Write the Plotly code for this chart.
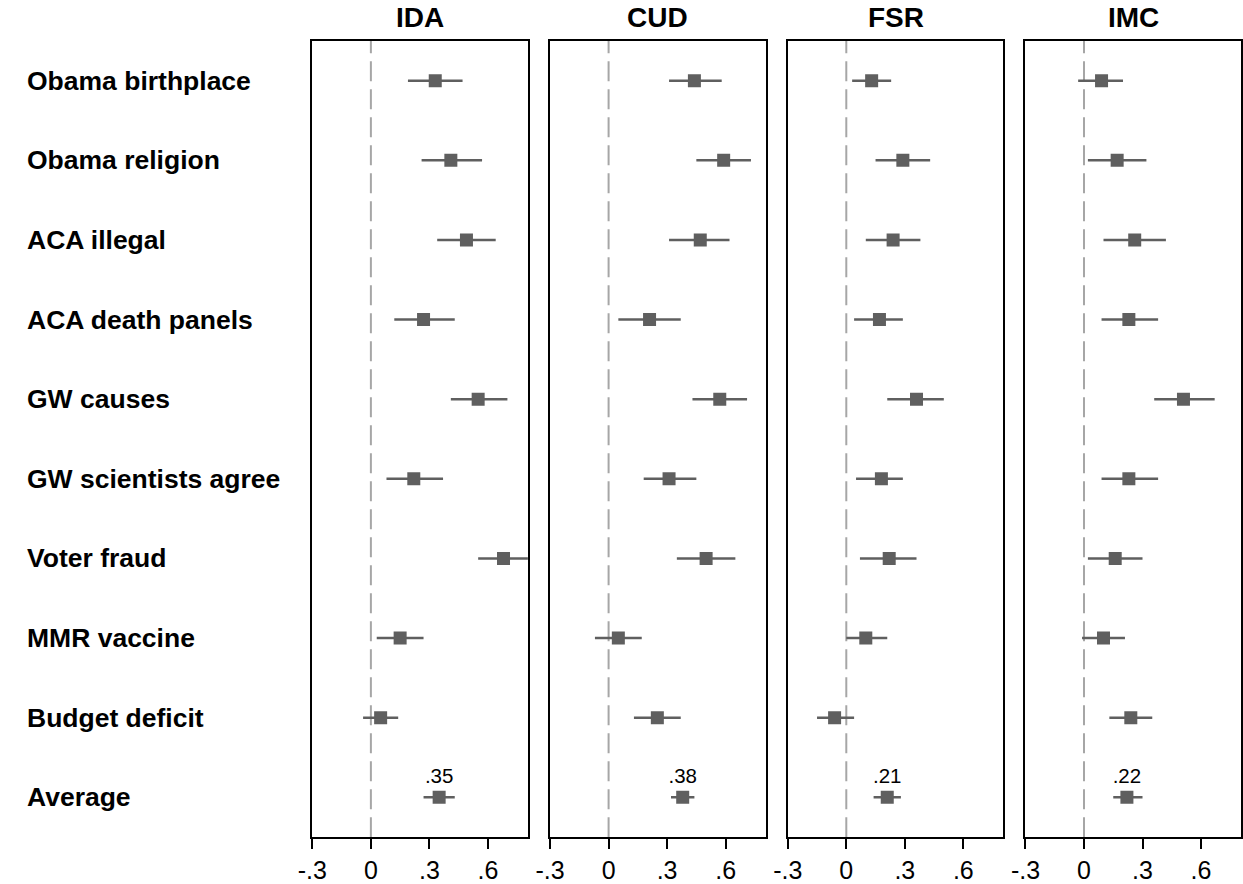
import plotly.graph_objects as go

# Four outcome panels, each a coefficient plot with 95% intervals
panels = ["IDA", "CUD", "FSR", "IMC"]
items = [
    "Obama birthplace", "Obama religion", "ACA illegal", "ACA death panels",
    "GW causes", "GW scientists agree", "Voter fraud", "MMR vaccine",
    "Budget deficit", "Average",
]

est_ida = [0.33, 0.41, 0.49, 0.27, 0.55, 0.22, 0.68, 0.15, 0.05, 0.35]
lo_ida = [0.19, 0.26, 0.34, 0.12, 0.41, 0.08, 0.55, 0.03, -0.04, 0.27]
hi_ida = [0.47, 0.57, 0.64, 0.43, 0.70, 0.37, 0.82, 0.27, 0.14, 0.43]

est_cud = [0.44, 0.59, 0.47, 0.21, 0.57, 0.31, 0.50, 0.05, 0.25, 0.38]
lo_cud = [0.31, 0.45, 0.31, 0.05, 0.43, 0.18, 0.35, -0.07, 0.13, 0.32]
hi_cud = [0.58, 0.73, 0.62, 0.37, 0.71, 0.45, 0.65, 0.17, 0.37, 0.44]

est_fsr = [0.13, 0.29, 0.24, 0.17, 0.36, 0.18, 0.22, 0.10, -0.06, 0.21]
lo_fsr = [0.03, 0.15, 0.10, 0.04, 0.21, 0.05, 0.07, 0.00, -0.15, 0.14]
hi_fsr = [0.23, 0.43, 0.38, 0.29, 0.50, 0.29, 0.36, 0.21, 0.04, 0.28]

est_imc = [0.09, 0.17, 0.26, 0.23, 0.51, 0.23, 0.16, 0.10, 0.24, 0.22]
lo_imc = [-0.03, 0.02, 0.10, 0.09, 0.36, 0.09, 0.02, -0.01, 0.13, 0.15]
hi_imc = [0.20, 0.32, 0.42, 0.38, 0.67, 0.38, 0.30, 0.21, 0.35, 0.30]

tick_vals = [-0.3, 0, 0.3, 0.6]
tick_text = ["-.3", "0", ".3", ".6"]

series = [
    (est_ida, lo_ida, hi_ida),
    (est_cud, lo_cud, hi_cud),
    (est_fsr, lo_fsr, hi_fsr),
    (est_imc, lo_imc, hi_imc),
]

W, H = 1243, 884
FONT = "Liberation Sans, Arial, Helvetica, sans-serif"
MARK = "#5f5f5f"
panel_left = [301.5, 542.5, 783.5, 1024.5]
panel_w = 218.5
plot_top, plot_bottom = 41, 840

fig = go.Figure()
annotations = []
shapes = []

for i, (name, (est, lo, hi)) in enumerate(zip(panels, series)):
    sfx = "" if i == 0 else str(i + 1)
    xa, ya = "x" + sfx, "y" + sfx
    n = len(items)
    # item rows (without the average)
    fig.add_trace(go.Scatter(
        x=est[:-1], y=items[:-1], xaxis=xa, yaxis=ya, mode="markers",
        marker=dict(symbol="square", size=13, color=MARK),
        error_x=dict(type="data", symmetric=False,
                     array=[h - e for h, e in zip(hi[:-1], est[:-1])],
                     arrayminus=[e - l for e, l in zip(est[:-1], lo[:-1])],
                     thickness=2.5, width=0, color=MARK),
        showlegend=False, hoverinfo="x+y",
    ))
    # average row, labelled with its estimate
    avg = est[-1]
    fig.add_trace(go.Scatter(
        x=[avg], y=[items[-1]], xaxis=xa, yaxis=ya, mode="markers+text",
        marker=dict(symbol="square", size=13, color=MARK),
        text=[("%.2f" % avg).lstrip("0")], textposition="top center",
        textfont=dict(family=FONT, size=20.5, color="black"),
        error_x=dict(type="data", symmetric=False,
                     array=[hi[-1] - avg], arrayminus=[avg - lo[-1]],
                     thickness=2.5, width=0, color=MARK),
        showlegend=False, hoverinfo="x+y",
    ))

    x0 = panel_left[i] / W
    x1 = (panel_left[i] + panel_w) / W
    fig.layout["xaxis" + sfx] = dict(
        domain=[x0, x1], anchor=ya, range=[-0.3, 0.805],
        tickvals=tick_vals, ticktext=tick_text, ticks="outside",
        ticklen=10, tickwidth=2, tickcolor="black",
        tickfont=dict(family=FONT, size=25, color="black"),
        showline=True, linecolor="black", linewidth=2, mirror=True,
        showgrid=False, zeroline=False,
    )
    fig.layout["yaxis" + sfx] = dict(
        domain=[(H - plot_bottom) / H, (H - plot_top) / H], anchor=xa,
        type="category", categoryarray=items, range=[n - 0.5, -0.5],
        showticklabels=False, ticks="", showline=True, linecolor="black",
        linewidth=2, mirror=True, showgrid=False, zeroline=False,
    )

    # dashed reference line at zero
    shapes.append(dict(
        type="line", xref=xa, yref=ya + " domain", x0=0, x1=0, y0=0, y1=1,
        line=dict(color="#a6a6a6", width=2, dash="20px,8px"), layer="below",
    ))
    # panel title
    annotations.append(dict(
        text=name, xref=xa + " domain", yref=ya + " domain", x=0.5, y=1,
        yshift=23, xanchor="center", yanchor="middle", showarrow=False,
        font=dict(family=FONT, size=28, color="black", weight="bold"),
    ))

# row labels on the left
for it in items:
    annotations.append(dict(
        text=it, xref="paper", yref="y", x=10 / W, y=it,
        xanchor="left", yanchor="middle", showarrow=False,
        font=dict(family=FONT, size=26.5, color="black", weight="bold"),
    ))

fig.update_layout(
    width=W, height=H, margin=dict(l=0, r=0, t=0, b=0),
    paper_bgcolor="white", plot_bgcolor="white",
    annotations=annotations, shapes=shapes,
)

fig.write_html(
    "out.html",
    post_script="document.body.style.margin='0';",
)
